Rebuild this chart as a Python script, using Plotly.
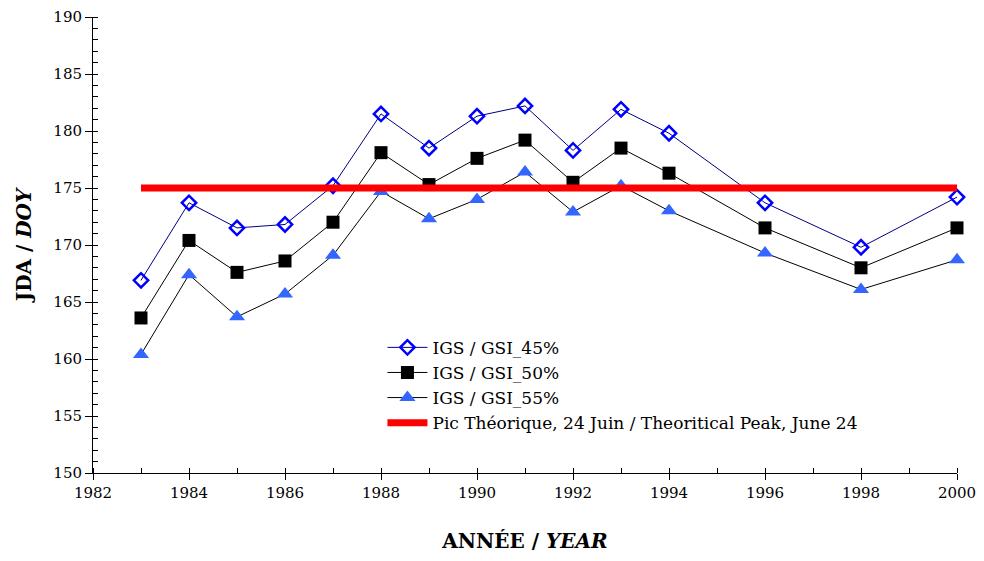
import plotly.graph_objects as go

years = [1983, 1984, 1985, 1986, 1987, 1988, 1989, 1990, 1991, 1992, 1993, 1994, 1996, 1998, 2000]
gsi_45 = [166.9, 173.7, 171.5, 171.8, 175.2, 181.5, 178.5, 181.3, 182.2, 178.3, 181.9, 179.8, 173.7, 169.8, 174.2]
gsi_50 = [163.6, 170.4, 167.6, 168.6, 172.0, 178.1, 175.3, 177.6, 179.2, 175.5, 178.5, 176.3, 171.5, 168.0, 171.5]
gsi_55 = [160.4, 167.4, 163.7, 165.7, 169.1, 174.7, 172.3, 174.0, 176.4, 172.9, 175.2, 173.0, 169.3, 166.1, 168.7]
peak_years = [1983, 2000]
peak_doy = [175, 175]

names = [
    "IGS / GSI_45%",
    "IGS / GSI_50%",
    "IGS / GSI_55%",
    "Pic Théorique, 24 Juin / Theoritical Peak, June 24",
]

FONT = "DejaVu Serif"

fig = go.Figure()
fig.add_trace(go.Scatter(
    x=years, y=gsi_45, name=names[0], mode="lines+markers",
    line=dict(color="#000080", width=1),
    marker=dict(symbol="diamond-open", size=11, color="#0000FF", line=dict(width=2.5, color="#0000FF")),
    cliponaxis=False,
))
fig.add_trace(go.Scatter(
    x=years, y=gsi_50, name=names[1], mode="lines+markers",
    line=dict(color="#000000", width=1),
    marker=dict(symbol="square", size=13, color="#000000"),
    cliponaxis=False,
))
fig.add_trace(go.Scatter(
    x=years, y=gsi_55, name=names[2], mode="lines+markers",
    line=dict(color="#000000", width=1),
    marker=dict(symbol="triangle-up", size=14, color="#3366FF"),
    cliponaxis=False,
))
fig.add_trace(go.Scatter(
    x=peak_years, y=peak_doy, name=names[3], mode="lines",
    line=dict(color="#FF0000", width=7),
    cliponaxis=False,
))

fig.update_layout(
    width=984, height=561,
    margin=dict(l=93, r=27, t=17, b=88),
    paper_bgcolor="white", plot_bgcolor="white",
    font=dict(family=FONT, size=15, color="black"),
    showlegend=True,
    legend=dict(
        x=0.335, y=0.314, xanchor="left", yanchor="top",
        bgcolor="rgba(0,0,0,0)", font=dict(family=FONT, size=17),
        tracegroupgap=0, itemwidth=40,
    ),
    xaxis=dict(
        range=[1982, 2000], tickmode="linear", tick0=1982, dtick=2,
        showgrid=False, zeroline=False, showline=True, linecolor="black", linewidth=1,
        ticks="outside", ticklen=6, tickcolor="black", automargin=False,
        minor=dict(dtick=1, tick0=1982, ticks="inside", ticklen=5, tickcolor="black"),
        tickfont=dict(family=FONT, size=15),
        title=dict(text="<b>ANNÉE / <i>YEAR</i></b>", font=dict(family=FONT, size=20), standoff=32),
    ),
    yaxis=dict(
        range=[150, 190], tickmode="linear", tick0=150, dtick=5,
        showgrid=False, zeroline=False, showline=True, linecolor="black", linewidth=1,
        ticks="outside", ticklen=7, tickcolor="black", automargin=False,
        minor=dict(dtick=1, tick0=150, ticks="inside", ticklen=5, tickcolor="black"),
        tickfont=dict(family=FONT, size=15),
        title=dict(text="<b>JDA / <i>DOY</i></b>", font=dict(family=FONT, size=20), standoff=16),
    ),
)

fig.write_html("out.html")
